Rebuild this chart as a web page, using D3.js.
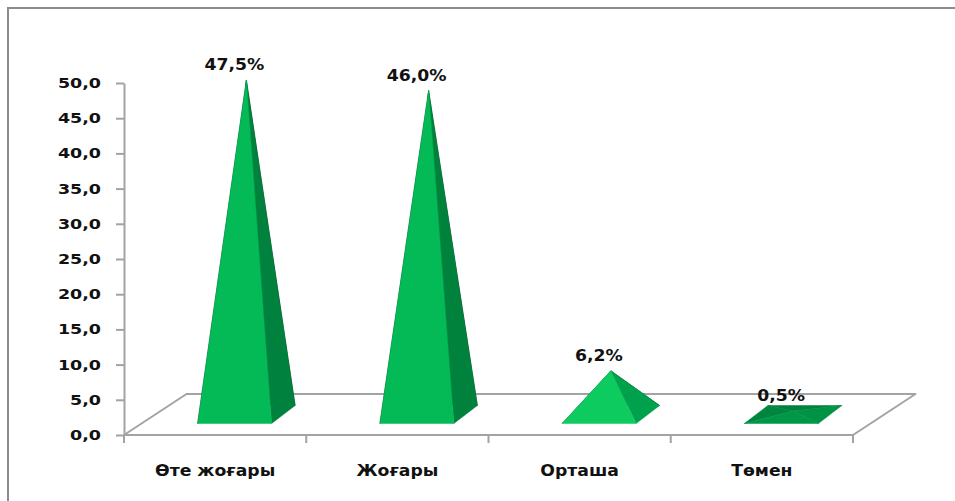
<!DOCTYPE html>
<html><head><meta charset="utf-8">
<script src="https://cdn.jsdelivr.net/npm/d3@7/dist/d3.min.js"></script>
<style>
html,body{margin:0;padding:0;background:#fff;}
svg{display:block;}
text{font-family:"DejaVu Sans",Verdana,sans-serif;font-weight:bold;fill:#111;}
</style></head>
<body>
<svg id="chart" width="955" height="501"></svg>
<script>
const categories = ["Өте жоғары", "Жоғары", "Орташа", "Төмен"];
const values = [47.5, 46.0, 6.2, 0.5];
const valueLabels = ["47,5%", "46,0%", "6,2%", "0,5%"];
const yTickValues = [0, 5, 10, 15, 20, 25, 30, 35, 40, 45, 50];

const svg = d3.select("#chart");
const W = 955, H = 501;

// frame
svg.append("rect").attr("x", 8).attr("y", 8).attr("width", W + 20).attr("height", H + 20)
  .attr("fill", "none").attr("stroke", "#8c8c8c").attr("stroke-width", 2);

const x = d3.scaleBand().domain(categories).range([124, 853]).padding(0);
const y = d3.scaleLinear().domain([0, 50]).range([435, 83]);
const depth = { dx: 62.5, dy: -41 };   // floor depth vector
const base = { hw: 37, px: 23.5, py: -18 }; // pyramid base half-width / depth vector
const lineCol = "#a3a3a3";

// floor
const y0 = y(0), xL = x.range()[0], xR = x.range()[1];
svg.append("path")
  .attr("d", `M${xL},${y0}L${xR},${y0}L${xR + depth.dx},${y0 + depth.dy}L${xL + depth.dx},${y0 + depth.dy}Z`)
  .attr("fill", "none").attr("stroke", lineCol).attr("stroke-width", 2).attr("stroke-linejoin", "round");

// y axis
const sx = 1.25;
const yAxis = d3.axisLeft(y).tickValues(yTickValues).tickSize(8).tickSizeOuter(0)
  .tickFormat(d => d3.format(".1f")(d).replace(".", ","));
const yg = svg.append("g").attr("transform", `translate(${xL},0)`).call(yAxis);
yg.select(".domain").attr("stroke", lineCol).attr("stroke-width", 2);
yg.selectAll(".tick line").attr("stroke", lineCol).attr("stroke-width", 2);
yg.selectAll(".tick text")
  .attr("x", -23 / sx).attr("transform", `scale(${sx},1)`)
  .style("font-family", "DejaVu Sans").style("font-weight", "bold").style("font-size", "14px").attr("fill", "#111");

// x ticks at band boundaries
const bounds = categories.map(c => x(c)).concat([xR]);
svg.selectAll("line.xtick").data(bounds).join("line").attr("class", "xtick")
  .attr("x1", d => d).attr("x2", d => d).attr("y1", y0).attr("y2", y0 + 8)
  .attr("stroke", lineCol).attr("stroke-width", 2);

// category labels
svg.selectAll("text.cat").data(categories).join("text").attr("class", "cat")
  .attr("transform", d => `translate(${x(d) + x.bandwidth() / 2},476) scale(1.15,1)`)
  .attr("text-anchor", "middle").style("font-size", "15px").text(d => d);

// lighting
function norm(v) { const l = Math.hypot(v[0], v[1], v[2]); return v.map(a => a / l); }
function shade(n) {
  n = norm(n);
  let b = 0.2 + 0.27 * n[0] + 0.35 * n[1] - 0.49 * n[2];
  b = Math.max(0.15, Math.min(0.85, b));
  const g = Math.round(255 * b);
  const r = Math.max(0, Math.round((b - 0.7) * 140));
  return `rgb(${r},${g},${Math.round(g * 0.47)})`;
}

const pxPerUnit = (y(0) - y(1));
const pyr = svg.append("g");
values.forEach((v, i) => {
  const cx = x(categories[i]) + x.bandwidth() / 2 + depth.dx / 2;
  const cy = y0 + depth.dy / 2;
  const fl = [cx - base.hw - base.px / 2, cy - base.py / 2];
  const fr = [cx + base.hw - base.px / 2, cy - base.py / 2];
  const bl = [cx - base.hw + base.px / 2, cy + base.py / 2];
  const br = [cx + base.hw + base.px / 2, cy + base.py / 2];
  const apex = [cx, y(v) + depth.dy / 2];
  const Hh = v * pxPerUnit, d = 40, w = base.hw;
  const faces = [
    { pts: [bl, br, apex], n: [0, d, Hh] },
    { pts: [fl, bl, apex], n: [-Hh, w, 0] },
    { pts: [fr, br, apex], n: [Hh, w, 0] },
    { pts: [fl, fr, apex], n: [0, d, -Hh] }
  ];
  faces.forEach(f => {
    pyr.append("path").attr("d", "M" + f.pts.map(p => p.join(",")).join("L") + "Z")
      .attr("fill", shade(f.n)).attr("stroke", shade(f.n)).attr("stroke-width", 0.5);
  });
  svg.append("text")
    .attr("transform", `translate(${cx - 12},${apex[1] - 15}) scale(1.15,1)`)
    .attr("text-anchor", "middle").attr("dy", "0.35em").style("font-size", "15px")
    .text(valueLabels[i]);
});
</script>
</body></html>
